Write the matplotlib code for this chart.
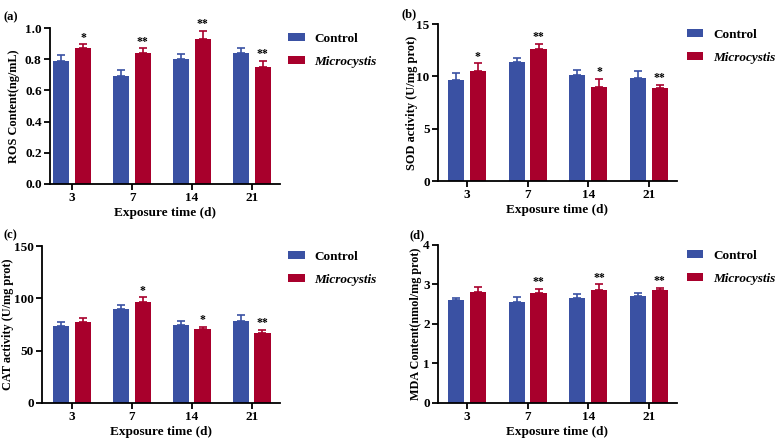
import matplotlib.pyplot as plt
import numpy as np

plt.rcParams['font.family'] = ['Liberation Serif', 'DejaVu Serif']
plt.rcParams['font.weight'] = 'bold'

# Data
days = ["3", "7", "14", "21"]

ros_ctrl = [0.79, 0.69, 0.80, 0.84]
ros_ctrl_err = [0.04, 0.04, 0.035, 0.035]
ros_mc = [0.87, 0.84, 0.93, 0.75]
ros_mc_err = [0.025, 0.03, 0.05, 0.04]
ros_sig = ["*", "**", "**", "**"]

sod_ctrl = [9.7, 11.35, 10.1, 9.85]
sod_ctrl_err = [0.6, 0.45, 0.5, 0.65]
sod_mc = [10.5, 12.65, 9.0, 8.9]
sod_mc_err = [0.75, 0.45, 0.75, 0.3]
sod_sig = ["*", "**", "*", "**"]

cat_ctrl = [74, 90, 75, 78.5]
cat_ctrl_err = [3.5, 4, 3, 5.5]
cat_mc = [77.5, 97, 71, 66.5]
cat_mc_err = [3.5, 4, 2, 3.5]
cat_sig = ["", "*", "*", "**"]

mda_ctrl = [2.6, 2.55, 2.65, 2.7]
mda_ctrl_err = [0.06, 0.13, 0.11, 0.09]
mda_mc = [2.8, 2.77, 2.86, 2.85]
mda_mc_err = [0.13, 0.11, 0.14, 0.06]
mda_sig = ["", "**", "**", "**"]

blue = "#3a51a3"
red = "#a8002c"

fig = plt.figure(figsize=(7.8, 4.43), dpi=100)

panels = [
    # rect, letter pos, letter, data..., ylabel, ylabel size, ylabel x, ylim, ticks, fmt, xlim, legend x
    ([0.0641, 0.5847, 0.295, 0.352], (0.004, 0.955), "(a)",
     ros_ctrl, ros_ctrl_err, ros_mc, ros_mc_err, ros_sig,
     "ROS Content(ng/mL)", 8.8, -0.13, (0, 1.0), np.arange(0, 1.01, 0.2), "{:.1f}",
     (-0.37, 3.47), 1.035),
    ([0.5615, 0.5914, 0.306, 0.354], (0.515, 0.96), "(b)",
     sod_ctrl, sod_ctrl_err, sod_mc, sod_mc_err, sod_sig,
     "SOD activity (U/mg prot)", 8.9, -0.085, (0, 15), [0, 5, 10, 15], "{:.0f}",
     (-0.48, 3.46), 1.042),
    ([0.0538, 0.0903, 0.305, 0.354], (0.004, 0.463), "(c)",
     cat_ctrl, cat_ctrl_err, cat_mc, cat_mc_err, cat_sig,
     "CAT activity (U/mg prot)", 8.8, -0.116, (0, 150), [0, 50, 100, 150], "{:.0f}",
     (-0.5, 3.47), 1.035),
    ([0.5615, 0.0903, 0.306, 0.357], (0.525, 0.463), "(d)",
     mda_ctrl, mda_ctrl_err, mda_mc, mda_mc_err, mda_sig,
     "MDA Content(nmol/mg prot)", 8.7, -0.066, (0, 4), [0, 1, 2, 3, 4], "{:.0f}",
     (-0.48, 3.46), 1.042),
]

x = np.arange(len(days))
w = 0.27
off = 0.18

for (rect, lpos, letter, c, ce, m, me, sig, ylab, ylsize, ylx, ylim, ticks, fmt,
     xlim, legx) in panels:
    ax = fig.add_axes(rect)
    ax.bar(x - off, c, w, color=blue, label="Control")
    ax.bar(x + off, m, w, color=red, label="Microcystis")
    ax.errorbar(x - off, c, yerr=[np.zeros(4), ce], fmt="none", ecolor=blue,
                elinewidth=1.2, capsize=3, capthick=1.2)
    ax.errorbar(x + off, m, yerr=[np.zeros(4), me], fmt="none", ecolor=red,
                elinewidth=1.2, capsize=3, capthick=1.2)
    span = ylim[1] - ylim[0]
    for xi, v, e, s in zip(x, m, me, sig):
        if s:
            ax.text(xi + off, v + e + span * 0.005, s, ha="center", va="bottom",
                    fontsize=8.5, fontweight="bold")
    ax.set_ylim(*ylim)
    ax.set_xlim(*xlim)
    ax.set_yticks(ticks)
    ax.set_yticklabels([fmt.format(t) for t in ticks])
    ax.set_xticks(x)
    ax.set_xticklabels(days)
    ax.tick_params(labelsize=9.5, width=1.3, length=4, pad=2)
    for sp in ["top", "right"]:
        ax.spines[sp].set_visible(False)
    for sp in ["left", "bottom"]:
        ax.spines[sp].set_linewidth(1.3)
    ax.set_xlabel("Exposure time (d)", fontsize=9.5, fontweight="bold", labelpad=2)
    ax.set_ylabel(ylab, fontsize=ylsize, fontweight="bold")
    ax.yaxis.set_label_coords(ylx, 0.5)
    leg = ax.legend(loc="upper left", bbox_to_anchor=(legx, 0.97), frameon=False,
                    fontsize=9.5, handlelength=1.25, handleheight=0.55,
                    labelspacing=0.85, handletextpad=0.75, borderpad=0,
                    borderaxespad=0)
    leg.get_texts()[1].set_fontstyle("italic")
    fig.text(lpos[0], lpos[1], letter, fontsize=9, fontweight="bold")

plt.savefig("out.png", dpi=100)
